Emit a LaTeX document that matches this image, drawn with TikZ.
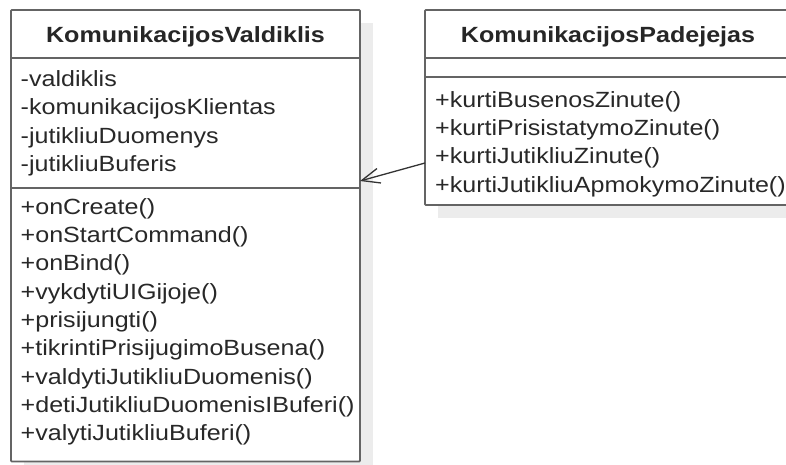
\documentclass[tikz,border=0pt]{standalone}
\usepackage{fontspec}
\setmainfont{Liberation Sans}
\usetikzlibrary{arrows.meta}
\definecolor{linec}{RGB}{100,100,100}
\definecolor{txtc}{RGB}{40,40,40}
\definecolor{shadc}{RGB}{236,236,236}
\newcommand{\hsx}[1]{\scalebox{1.14}[1]{#1}}
\begin{document}
\begin{tikzpicture}[x=1pt,y=-1pt,
  box/.style={draw=linec, line width=1.8pt, anchor=north west, inner sep=0pt, outer sep=0pt, rounded corners=0.8pt},
  title/.style={anchor=base, inner sep=0pt, text=black!85, font=\bfseries\fontsize{22}{26}\selectfont},
  member/.style={anchor=base west, inner sep=0pt, text=txtc, font=\fontsize{22}{26}\selectfont},
  rule/.style={draw=linec, line width=1.8pt}]
\clip (0,0) rectangle (786,465);
\fill[white] (0,0) rectangle (786,465);
% shadows
\fill[shadc] (23.5,23) rectangle (373,475);
\fill[shadc] (438,23) rectangle (804,218);
% boxes
\node[box, fill=white, minimum width=349pt, minimum height=451.5pt] (lbox) at (11,10) {};
\node[box, fill=white, minimum width=366pt, minimum height=195pt] (rbox) at (425,10) {};
% compartment rules
\draw[rule] (lbox.west |- 0,58) -- (lbox.east |- 0,58);
\draw[rule] (lbox.west |- 0,188) -- (lbox.east |- 0,188);
\draw[rule] (rbox.west |- 0,58) -- (rbox.east |- 0,58);
\draw[rule] (rbox.west |- 0,77) -- (rbox.east |- 0,77);
% titles
\node[title] (ltitle) at (185.5,42.7) {\hsx{KomunikacijosValdiklis}};
\node[title] (rtitle) at (608,42.7) {\hsx{KomunikacijosPadejejas}};
% attributes
\node[member] (a1) at (20.5,86.7) {\hsx{-valdiklis}};
\node[member] (a2) at (20.5,115.0) {\hsx{-komunikacijosKlientas}};
\node[member] (a3) at (20.5,143.3) {\hsx{-jutikliuDuomenys}};
\node[member] (a4) at (20.5,171.6) {\hsx{-jutikliuBuferis}};
% methods left
\node[member] (m1) at (20.5,214.3) {\hsx{+onCreate()}};
\node[member] (m2) at (20.5,242.6) {\hsx{+onStartCommand()}};
\node[member] (m3) at (20.5,270.9) {\hsx{+onBind()}};
\node[member] (m4) at (20.5,299.2) {\hsx{+vykdytiUIGijoje()}};
\node[member] (m5) at (20.5,327.5) {\hsx{+prisijungti()}};
\node[member] (m6) at (20.5,355.8) {\hsx{+tikrintiPrisijugimoBusena()}};
\node[member] (m7) at (20.5,384.1) {\hsx{+valdytiJutikliuDuomenis()}};
\node[member] (m8) at (20.5,412.4) {\hsx{+detiJutikliuDuomenisIBuferi()}};
\node[member] (m9) at (20.5,440.7) {\hsx{+valytiJutikliuBuferi()}};
% methods right
\node[member] (r1) at (435,107.3) {\hsx{+kurtiBusenosZinute()}};
\node[member] (r2) at (435,135.6) {\hsx{+kurtiPrisistatymoZinute()}};
\node[member] (r3) at (435,163.9) {\hsx{+kurtiJutikliuZinute()}};
\node[member] (r4) at (435,192.2) {\hsx{+kurtiJutikliuApmokymoZinute()}};
% association arrow
\coordinate (from) at (rbox.west |- 0,163);
\coordinate (to) at (lbox.east |- 0,181);
\draw[draw=black!80, line width=1.3pt, -{Straight Barb[length=18pt,width=15pt,line width=1.3pt]}] (from) -- (to);
\end{tikzpicture}
\end{document}
